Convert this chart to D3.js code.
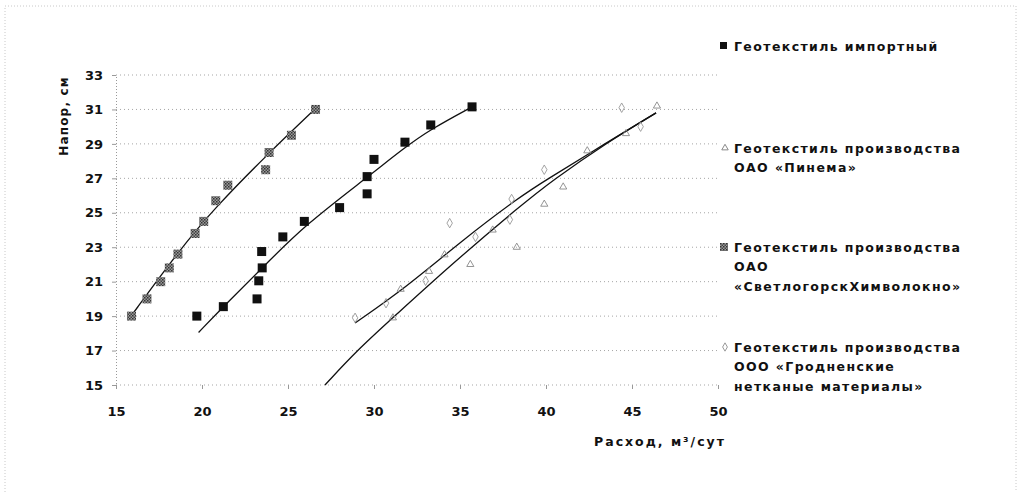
<!DOCTYPE html>
<html><head><meta charset="utf-8">
<script src="https://cdn.jsdelivr.net/npm/d3@7"></script>
<style>
html,body{margin:0;padding:0;background:#fff;}
text{font-family:"DejaVu Sans",Verdana,sans-serif;font-weight:bold;fill:#111;}
</style></head>
<body><svg id="c" width="1022" height="498"></svg>
<script>
// ---- data ----
const yTicks = [15,17,19,21,23,25,27,29,31,33];
const xTicks = [15,20,25,30,35,40,45,50];

// Геотекстиль импортный
const impX = [19.7,21.24,23.2,23.3,23.5,23.47,24.7,25.95,28.0,29.6,29.6,30.0,31.8,33.3,35.7];
const impY = [19.0,19.55,20.0,21.05,21.8,22.75,23.6,24.5,25.3,26.1,27.1,28.1,29.1,30.1,31.15];
const impTrendX = [19.8,21.24,23.5,26.0,29.6,31.8,33.3,35.7];
const impTrendY = [18.05,19.55,21.8,24.3,27.05,28.8,29.85,31.15];

// ОАО «Пинема»
const pinX = [31.1,31.55,33.2,34.1,35.6,36.9,38.3,39.9,41.0,42.4,44.65,46.45];
const pinY = [18.9,20.56,21.6,22.56,22.0,24.0,23.0,25.5,26.5,28.6,29.6,31.2];
const pinTrendX = [27.15,29.0,31.2,34.5,38.5,40.4,43.5,46.4];
const pinTrendY = [15.0,17.0,19.0,22.0,25.4,26.9,29.05,30.8];

// ОАО «СветлогорскХимволокно»
const svX = [15.9,16.8,17.6,18.1,18.6,19.6,20.1,20.8,21.5,23.7,23.9,25.2,26.6];
const svY = [19.0,20.0,21.0,21.8,22.6,23.8,24.5,25.7,26.6,27.5,28.5,29.5,31.0];
const svTrendX = [15.8,18.7,20.76,23.76,26.6];
const svTrendY = [18.9,22.85,25.3,28.35,31.05];

// ООО «Гродненские нетканые материалы»
const grX = [28.9,30.7,33.0,34.4,35.9,37.9,38.0,39.9,44.4,45.5];
const grY = [18.9,19.75,21.05,24.4,23.6,24.6,25.8,27.5,31.1,30.0];
const grTrendX = [28.9,31.9,35.0,38.5,40.0,43.5,46.4];
const grTrendY = [18.6,20.7,23.3,25.95,26.9,29.05,30.8];

const legendLines = [
  ["Геотекстиль импортный"],
  ["Геотекстиль производства","ОАО «Пинема»"],
  ["Геотекстиль производства","ОАО","«СветлогорскХимволокно»"],
  ["Геотекстиль производства","ООО «Гродненские","нетканые материалы»"]
];
const xTitle = "Расход, м³/сут";
const yTitle = "Напор, см";

// ---- drawing ----
const svg = d3.select("#c");
svg.append("rect").attr("width",1022).attr("height",498).attr("fill","#fff");
// outer faint dotted frame
svg.append("path").attr("d","M5,492 L5,6 L1016,6 L1016,492")
  .attr("fill","none").attr("stroke","#c8c8c8").attr("stroke-dasharray","1,2");

const x = d3.scaleLinear().domain([15,50]).range([116,718]);
const y = d3.scaleLinear().domain([15,33]).range([385,75]);

const defs = svg.append("defs");
const pat = defs.append("pattern").attr("id","hatch").attr("width",3).attr("height",3).attr("patternUnits","userSpaceOnUse");
pat.append("rect").attr("width",3).attr("height",3).attr("fill","#9a9a9a");
pat.append("rect").attr("width",1.5).attr("height",1.5).attr("fill","#333");
pat.append("rect").attr("x",1.5).attr("y",1.5).attr("width",1.5).attr("height",1.5).attr("fill","#444");

// gridlines
svg.append("g").selectAll("line").data(yTicks).join("line")
  .attr("x1",x(15)).attr("x2",x(50)).attr("y1",d=>y(d)).attr("y2",d=>y(d))
  .attr("stroke","#a5a5a5").attr("stroke-width",1).attr("stroke-dasharray","1,3");

// axes
const yAxis = d3.axisLeft(y).tickValues(yTicks).tickSize(4).tickPadding(9);
const gy = svg.append("g").attr("transform",`translate(${x(15)},0)`).call(yAxis);
gy.select(".domain").attr("stroke","#999").attr("stroke-dasharray","1,2");
gy.selectAll(".tick line").attr("stroke","#999");
gy.selectAll("text").attr("font-size",13).style("font-family","'DejaVu Sans',sans-serif").style("font-weight","bold").attr("fill","#111");

const xAxis = d3.axisBottom(x).tickValues(xTicks).tickSize(4).tickPadding(18);
const gx = svg.append("g").attr("transform",`translate(0,${y(15)})`).call(xAxis);
gx.select(".domain").remove();
gx.selectAll(".tick line").attr("stroke","#999");
gx.selectAll("text").attr("font-size",13).style("font-family","'DejaVu Sans',sans-serif").style("font-weight","bold").attr("fill","#111");

// axis titles
svg.append("text").attr("transform",`translate(${68},${116}) rotate(-90)`)
  .attr("text-anchor","middle").attr("font-size",12).attr("letter-spacing",1.2).text(yTitle);
svg.append("text").attr("x",660).attr("y",446)
  .attr("text-anchor","middle").attr("font-size",12.5).attr("letter-spacing",2).text(xTitle);

// trend lines
const line = d3.line().x(d=>x(d[0])).y(d=>y(d[1])).curve(d3.curveBasis);
function trend(xs,ys){
  const pts = xs.map((v,i)=>[v,ys[i]]);
  svg.append("path").datum(pts).attr("d",line).attr("fill","none").attr("stroke","#111").attr("stroke-width",1.3);
}
trend(impTrendX,impTrendY);
trend(pinTrendX,pinTrendY);
trend(svTrendX,svTrendY);
trend(grTrendX,grTrendY);

// markers
function squares(xs,ys,fill,size){
  svg.append("g").selectAll("rect").data(xs.map((v,i)=>[v,ys[i]])).join("rect")
    .attr("x",d=>x(d[0])-size/2).attr("y",d=>y(d[1])-size/2)
    .attr("width",size).attr("height",size).attr("fill",fill);
}
squares(svX,svY,"url(#hatch)",9);
squares(impX,impY,"#111",9);
const tri = d3.symbol().type(d3.symbolTriangle).size(22);
svg.append("g").selectAll("path").data(pinX.map((v,i)=>[v,pinY[i]])).join("path")
  .attr("transform",d=>`translate(${x(d[0])},${y(d[1])})`).attr("d",tri)
  .attr("fill","none").attr("stroke","#888").attr("stroke-width",0.9);
const dia = d3.symbol().type(d3.symbolDiamond).size(26);
svg.append("g").selectAll("path").data(grX.map((v,i)=>[v,grY[i]])).join("path")
  .attr("transform",d=>`translate(${x(d[0])},${y(d[1])})`).attr("d",dia)
  .attr("fill","none").attr("stroke","#999").attr("stroke-width",0.9);

// legend
const legY = [46,148,247,347];
const lg = svg.append("g");
legendLines.forEach((lines,i)=>{
  const cy = legY[i];
  if(i===0){ lg.append("rect").attr("x",720).attr("y",cy-4).attr("width",7).attr("height",7).attr("fill","#111"); }
  if(i===1){ lg.append("path").attr("transform",`translate(725,${cy})`).attr("d",d3.symbol().type(d3.symbolTriangle).size(18)).attr("fill","none").attr("stroke","#888"); }
  if(i===2){ lg.append("rect").attr("x",720).attr("y",cy-4).attr("width",8).attr("height",8).attr("fill","url(#hatch)"); }
  if(i===3){ lg.append("path").attr("transform",`translate(725,${cy})`).attr("d",d3.symbol().type(d3.symbolDiamond).size(20)).attr("fill","none").attr("stroke","#999"); }
  lines.forEach((t,j)=>{
    lg.append("text").attr("x",734).attr("y",cy+4.5+j*19.5).attr("font-size",12.5).attr("letter-spacing",1.4).text(t);
  });
});
</script></body></html>
